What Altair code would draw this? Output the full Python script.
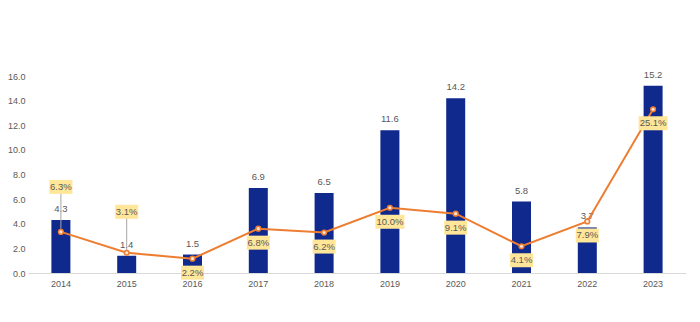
import altair as alt
import pandas as pd

years = ["2014", "2015", "2016", "2017", "2018", "2019", "2020", "2021", "2022", "2023"]
bar_values = [4.3, 1.4, 1.5, 6.9, 6.5, 11.6, 14.2, 5.8, 3.7, 15.2]
growth = [6.3, 3.1, 2.2, 6.8, 6.2, 10.0, 9.1, 4.1, 7.9, 25.1]
growth_labels = ["6.3%", "3.1%", "2.2%", "6.8%", "6.2%", "10.0%", "9.1%", "4.1%", "7.9%", "25.1%"]

df = pd.DataFrame({
    "year": years,
    "value": bar_values,
    "growth": growth,
    "glabel": growth_labels,
})

BAR = "#10298C"
ORANGE = "#ED7D31"
BOXFILL = "#FFE699"
TXT = "#595959"
FONT = "Liberation Sans"

x = alt.X("year:N", title=None, sort=years,
          scale=alt.Scale(paddingInner=0, paddingOuter=0),
          axis=alt.Axis(labelAngle=0, ticks=False, domainColor="#D9D9D9",
                        labelColor=TXT, labelFont=FONT, labelFontSize=9,
                        labelPadding=6))

ybar = alt.Y("value:Q", title=None,
             scale=alt.Scale(domain=[0, 16], nice=False),
             axis=alt.Axis(values=[0, 2, 4, 6, 8, 10, 12, 14, 16], format=".1f",
                           grid=False, ticks=False, domain=False,
                           labelColor=TXT, labelFont=FONT, labelFontSize=9,
                           labelPadding=3))

base = alt.Chart(df)

bars = base.mark_bar(color=BAR, width=19).encode(x=x, y=ybar)
bar_text = base.mark_text(dy=-11, color=TXT, font=FONT, fontSize=9.5).encode(
    x=x, y=ybar, text=alt.Text("value:Q", format=".1f"))

bar_layer = alt.layer(bars, bar_text)

yline = alt.Y("growth:Q", title=None,
              scale=alt.Scale(domain=[0, 30.2], nice=False), axis=None)

line = base.mark_line(color=ORANGE, strokeWidth=2).encode(x=x, y=yline)

# label placement offsets (px) relative to the point
above = {"2014": -45, "2015": -41}
below_offset = 14
leader_len = {"2014": 38, "2015": 35}

label_layers = []
for yr, off in above.items():
    sub = base.transform_filter(alt.datum.year == yr)
    L = leader_len[yr]
    label_layers.append(
        sub.mark_point(shape="M0,0L0,-1", filled=False, stroke="#A6A6A6",
                       strokeWidth=1, size=(2 * L) ** 2, opacity=1).encode(x=x, y=yline))

def box_shape(w, h=14):
    hh = h / w
    return f"M-1,-{hh:.3f}L1,-{hh:.3f}L1,{hh:.3f}L-1,{hh:.3f}Z"

def add_boxes(sub, off):
    out = []
    for n, w in [(4, 23), (5, 29)]:
        s = sub.transform_filter(f"length(datum.glabel) == {n}")
        out.append(s.mark_point(shape=box_shape(w), filled=True, fill=BOXFILL,
                                strokeWidth=0, opacity=1, size=w * w,
                                yOffset=off).encode(x=x, y=yline))
    return out

points = base.mark_point(filled=True, fill="#FCE4D6", stroke=ORANGE, strokeWidth=1.5,
                         size=22, opacity=1).encode(x=x, y=yline)

for yr, off in above.items():
    sub = base.transform_filter(alt.datum.year == yr)
    label_layers += add_boxes(sub, off)
    label_layers.append(sub.mark_text(dy=off, color=TXT, font=FONT, fontSize=9.5).encode(
        x=x, y=yline, text="glabel:N"))

below = base.transform_filter(alt.FieldOneOfPredicate(field="year",
                              oneOf=[y for y in years if y not in above]))
label_layers += add_boxes(below, below_offset)
label_layers.append(below.mark_text(dy=below_offset, color=TXT, font=FONT, fontSize=9.5).encode(
    x=x, y=yline, text="glabel:N"))

line_layer = alt.layer(line, *label_layers, points)

chart = alt.layer(bar_layer, line_layer).resolve_scale(y="independent").properties(
    width=658, height=197,
    background="white",
    autosize=alt.AutoSizeParams(type="none"),
    padding={"left": 28, "top": 76, "right": 14, "bottom": 49},
).configure_view(stroke="transparent", strokeWidth=0)

chart.save("out.html", embed_options={"renderer": "svg", "actions": False})
